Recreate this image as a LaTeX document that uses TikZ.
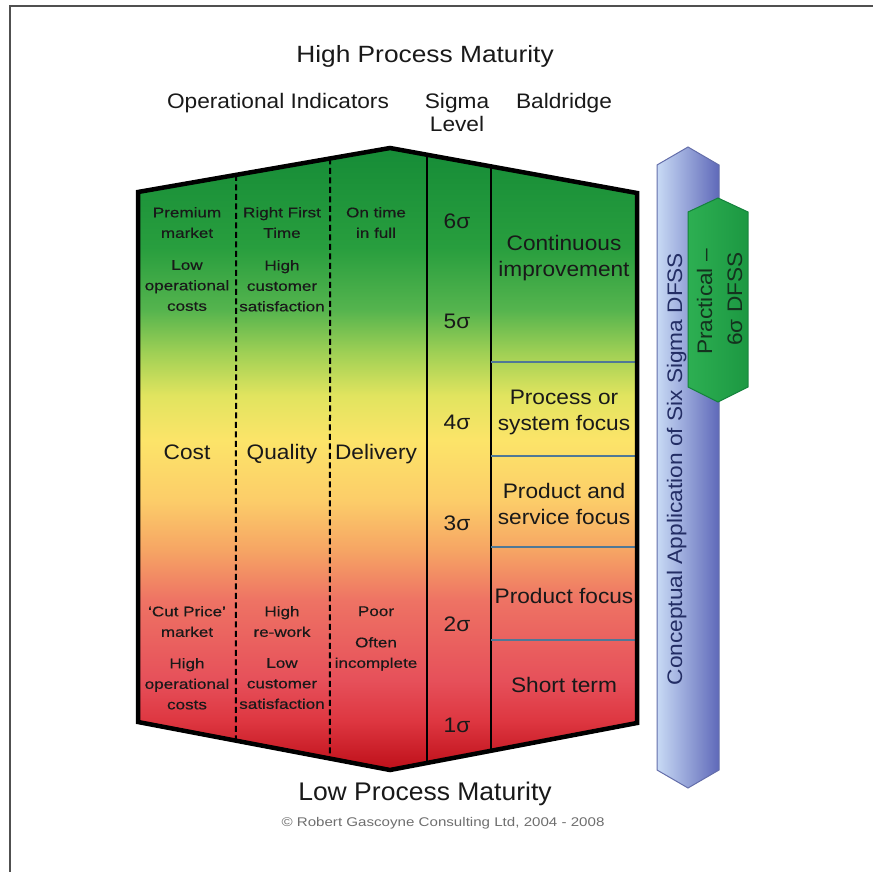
\documentclass[tikz,border=0pt]{standalone}
\usepackage{fontspec}
\setmainfont{Liberation Sans}
\newfontfamily\fTitle[FakeStretch=1.12]{Liberation Sans}
\newfontfamily\fLow[FakeStretch=1.04]{Liberation Sans}
\newfontfamily\fMid[FakeStretch=1.08]{Liberation Sans}
\newfontfamily\fSmall[FakeStretch=1.22,FakeBold=0.4]{Liberation Sans}
\newfontfamily\fCopy[FakeStretch=1.2]{Liberation Sans}

% maturity gradient, red (low) to green (high)
\definecolor{mG0}{RGB}{22,140,55}
\definecolor{mG1}{RGB}{40,158,62}
\definecolor{mG2}{RGB}{85,180,78}
\definecolor{mG3}{RGB}{160,208,85}
\definecolor{mYG}{RGB}{225,228,95}
\definecolor{mY1}{RGB}{252,228,105}
\definecolor{mY2}{RGB}{252,205,105}
\definecolor{mO1}{RGB}{246,165,100}
\definecolor{mO2}{RGB}{238,115,100}
\definecolor{mR1}{RGB}{230,80,90}
\definecolor{mR2}{RGB}{222,55,65}
\definecolor{mR3}{RGB}{190,15,25}
\definecolor{ink}{RGB}{25,25,25}
\definecolor{frame}{RGB}{80,80,80}
\definecolor{sep}{RGB}{80,120,150}
\definecolor{barL}{RGB}{200,218,245}
\definecolor{barR}{RGB}{95,105,185}
\definecolor{barEdge}{RGB}{100,110,170}
\definecolor{barInk}{RGB}{35,45,100}
\definecolor{hexL}{RGB}{45,175,82}
\definecolor{hexR}{RGB}{28,152,66}
\definecolor{hexEdge}{RGB}{20,130,60}
\definecolor{hexInk}{RGB}{20,50,30}
\definecolor{copyInk}{RGB}{110,110,110}

\pgfdeclareverticalshading{maturity}{100bp}{%
  color(0bp)=(mR3); color(25bp)=(mR3); color(29bp)=(mR2);
  color(32.2bp)=(mR1); color(38.7bp)=(mO2); color(42.7bp)=(mO1);
  color(46.7bp)=(mY2); color(51.5bp)=(mY1); color(55.1bp)=(mYG);
  color(58.5bp)=(mG3); color(62bp)=(mG2); color(67bp)=(mG1);
  color(75bp)=(mG0); color(100bp)=(mG0)}

\begin{document}
\begin{tikzpicture}[x=1pt,y=-1pt,
  txs/.style={font=\fSmall\fontsize{14}{20.5}\selectfont, text=ink, inner sep=0pt, align=center},
  txm/.style={font=\fMid\fontsize{21}{26}\selectfont, text=ink, inner sep=0pt, align=center},
  head/.style={font=\fMid\fontsize{21}{23}\selectfont, text=ink, inner sep=0pt, align=center},
  divdash/.style={line width=2pt, dash pattern=on 6pt off 3.5pt},
  divsolid/.style={line width=2.4pt},
  cellsep/.style={sep, line width=1.2pt},
  outline/.style={line width=4.5pt, line join=miter}]
\useasboundingbox (0,0) rectangle (873,872);

% page frame
\draw[frame, line width=2pt] (9.5,875) -- (9.5,6) -- (876,6);

% corners of the maturity block
\coordinate (tl) at (138,192);
\coordinate (tp) at (390,148);
\coordinate (tr) at (637,193);
\coordinate (br) at (637,723);
\coordinate (bp) at (390,770);
\coordinate (bl) at (138,722);

\shade[shading=maturity] (tl) -- (tp) -- (tr) -- (br) -- (bp) -- (bl) -- cycle;

% column dividers
\foreach \x/\s in {236/divdash, 330/divdash, 427/divsolid, 491/divsolid}{
  \ifdim\x pt<390pt
    \draw[\s] (intersection of tl--tp and \x,0--\x,1) -- (intersection of bl--bp and \x,0--\x,1);
  \else
    \draw[\s] (intersection of tp--tr and \x,0--\x,1) -- (intersection of bp--br and \x,0--\x,1);
  \fi
}

% Baldridge cell separators
\foreach \y in {362,456,547,640}
  \draw[cellsep] (491,\y) -- (637,\y);

\draw[outline] (tl) -- (tp) -- (tr) -- (br) -- (bp) -- (bl) -- cycle;

% conceptual application bar
\coordinate (bt) at (688,147);
\coordinate (bb) at (688,788);
\shade[left color=barL, right color=barR]
  (657,165) -- (bt) -- (719,165) -- (719,770) -- (bb) -- (657,770) -- cycle;
\draw[barEdge, line width=1pt, line join=miter]
  (657,165) -- (bt) -- (719,165) -- (719,770) -- (bb) -- (657,770) -- cycle;

% practical DFSS tag
\coordinate (ht) at (718,198);
\coordinate (hb) at (718,402);
\shade[left color=hexL, right color=hexR]
  (688,212) -- (ht) -- (748,212) -- (748,387) -- (hb) -- (688,387) -- cycle;
\draw[hexEdge, line width=1pt, line join=miter]
  (688,212) -- (ht) -- (748,212) -- (748,387) -- (hb) -- (688,387) -- cycle;

% titles and headers
\node[font=\fTitle\fontsize{23.5}{26}\selectfont, text=ink, inner sep=0pt, anchor=base] (title) at (425,63) {High Process Maturity};
\node[head, anchor=base] (hOp) at (278,109) {Operational Indicators};
\node[head, anchor=north] (hSig) at (457,93) {Sigma\\Level};
\node[head, anchor=base] (hBal) at (564,109) {Baldridge};
\node[font=\fLow\fontsize{25.5}{28}\selectfont, text=ink, inner sep=0pt, anchor=base] (low) at (425,800) {Low Process Maturity};
\node[font=\fCopy\fontsize{12.6}{14}\selectfont, text=copyInk, inner sep=0pt, anchor=base] (copy) at (443,826) {© Robert Gascoyne Consulting Ltd, 2004 - 2008};

% cost column
\node[txs, anchor=north] (c1a) at (187,207) {Premium\\market};
\node[txs, anchor=north] (c1b) at (187,260) {Low\\operational\\costs};
\node[txm, anchor=base]  (c1m) at (187,459) {Cost};
\node[txs, anchor=north] (c1c) at (187,606) {‘Cut Price’\\market};
\node[txs, anchor=north] (c1d) at (187,658) {High\\operational\\costs};

% quality column
\node[txs, anchor=north] (c2a) at (282,207) {Right First\\Time};
\node[txs, anchor=north] (c2b) at (282,260) {High\\customer\\satisfaction};
\node[txm, anchor=base]  (c2m) at (282,459) {Quality};
\node[txs, anchor=north] (c2c) at (282,606) {High\\re-work};
\node[txs, anchor=north] (c2d) at (282,658) {Low\\customer\\satisfaction};

% delivery column
\node[txs, anchor=north] (c3a) at (376,207) {On time\\in full};
\node[txm, anchor=base]  (c3m) at (376,459) {Delivery};
\node[txs, anchor=base]  (c3c) at (376,616) {Poor};
\node[txs, anchor=north] (c3d) at (376,637) {Often\\incomplete};

% sigma levels
\foreach \n/\y in {6/228,5/328,4/429,3/530,2/631,1/732}
  \node[txm, anchor=base] (s\n) at (457,\y) {\n σ};

% Baldridge stages
\node[txm, anchor=north] (b1) at (564,235) {Continuous\\improvement};
\node[txm, anchor=north] (b2) at (564,390) {Process or\\system focus};
\node[txm, anchor=north] (b3) at (564,483) {Product and\\service focus};
\node[txm, anchor=base]  (b4) at (564,603) {Product focus};
\node[txm, anchor=base]  (b5) at (564,692) {Short term};

% vertical labels
\node[txm, text=barInk, rotate=90, anchor=base] (bar) at (682,469) {Conceptual Application of Six Sigma DFSS};
\node[txm, text=hexInk, rotate=90, anchor=base] (hx1) at (712,302) {Practical –};
\node[txm, text=hexInk, rotate=90, anchor=base] (hx2) at (742,299) {6σ DFSS};
\end{tikzpicture}
\end{document}
